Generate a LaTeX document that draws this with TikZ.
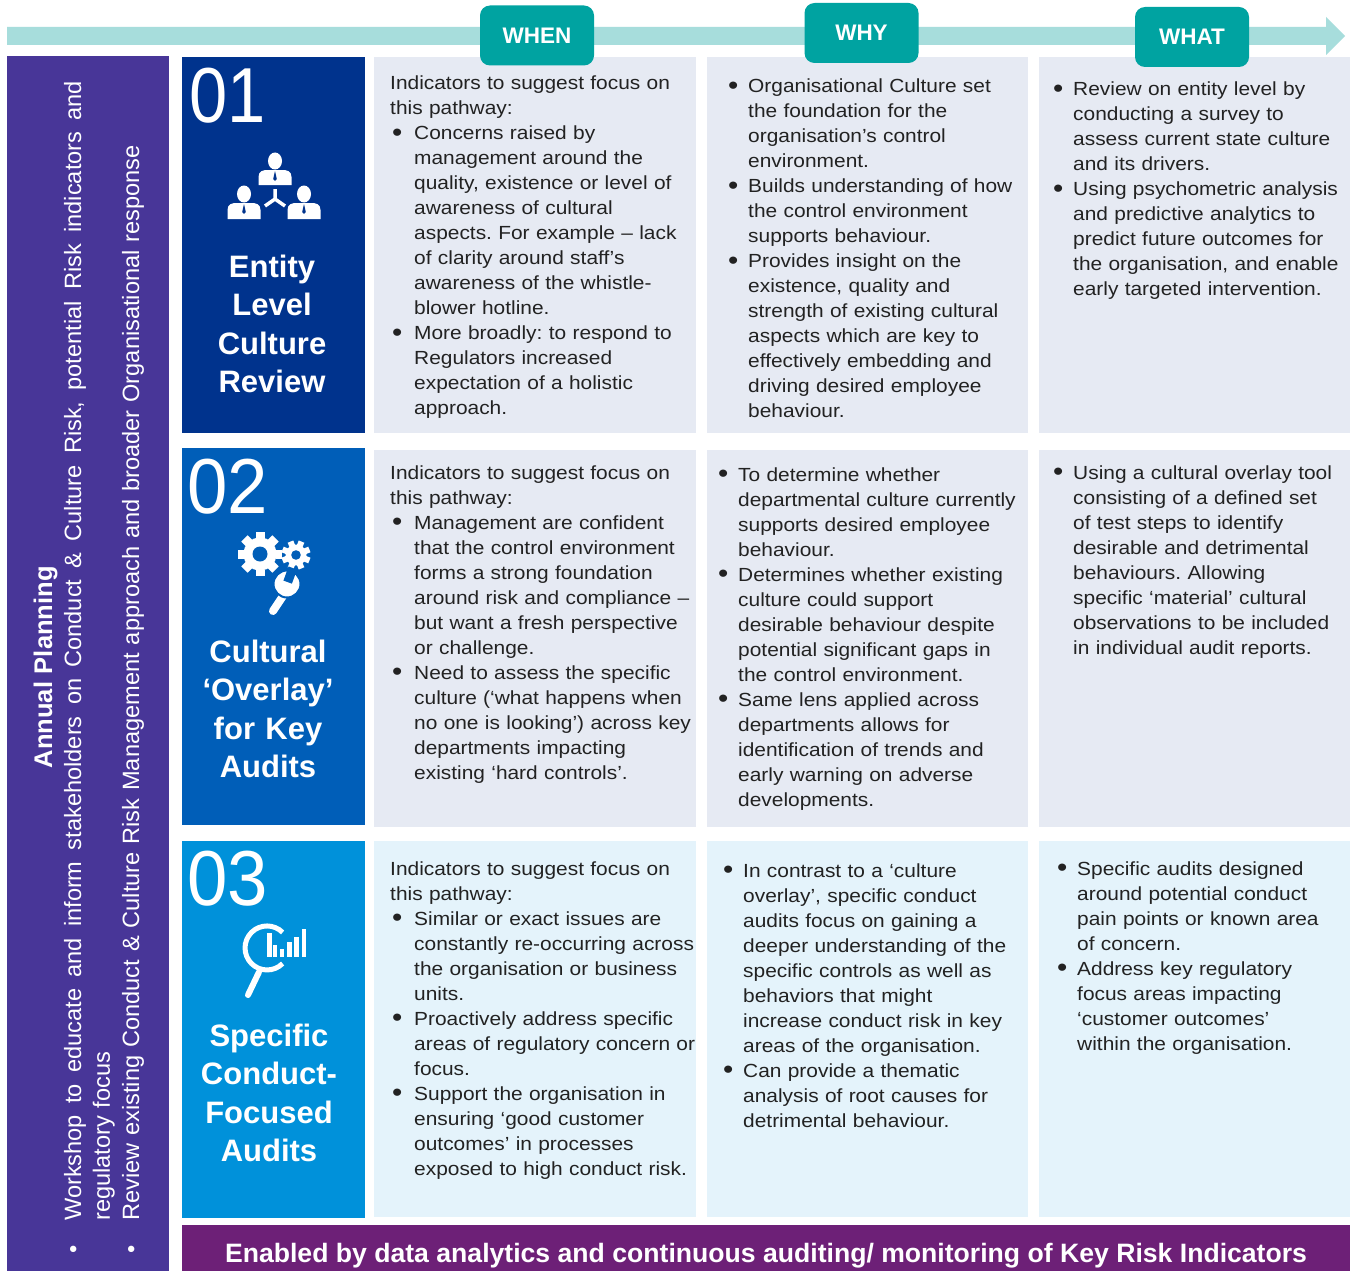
\documentclass[tikz,border=0pt]{standalone}
\usepackage{fontspec}
\usepackage{graphicx}
\setmainfont{Liberation Sans}
\newfontfamily\bodyf{Liberation Sans}[FakeStretch=1.1]
\definecolor{band}{HTML}{A7DDDC}
\definecolor{tabteal}{HTML}{00A3A1}
\definecolor{planpurple}{HTML}{483698}
\definecolor{barpurple}{HTML}{6D2077}
\definecolor{boxA}{HTML}{00338D}
\definecolor{boxB}{HTML}{005EB8}
\definecolor{boxC}{HTML}{0091DA}
\definecolor{cellA}{HTML}{E6EAF3}
\definecolor{cellB}{HTML}{E4F3FB}
\definecolor{txt}{HTML}{222222}
\frenchspacing
\newcommand{\bodyfont}{\bodyf\fontsize{19pt}{25pt}\selectfont\frenchspacing}
\newcommand{\titlefont}{\bfseries\fontsize{31pt}{38.5pt}\selectfont}
\newcommand{\numfont}{\fontsize{78pt}{80pt}\selectfont}
\newcommand{\tabfont}{\bfseries\fontsize{22.5pt}{24pt}\selectfont}
\newcommand{\barfont}{\bfseries\fontsize{26.6pt}{28pt}\selectfont}
\newcommand{\bigdot}{\raisebox{-1.6pt}{\scalebox{1.4}{•}}}
\newcommand{\wbul}[1]{\hangindent=24pt\hangafter=1\noindent\makebox[24pt][l]{\hspace{2pt}\bigdot}#1\par}
\newcommand{\ybul}[1]{\hangindent=19pt\hangafter=1\noindent\makebox[19pt][l]{\hspace{-1pt}\bigdot}#1\par}
\newcommand{\drawperson}[4]{%
  \fill[white] (#1,#2) ellipse (7pt and 8.5pt);
  \fill[white] ({#1-16.5},#4) -- ({#1-16.5},{#3+7}) .. controls ({#1-16.5},{#3+1}) and ({#1-12},#3) .. ({#1-7},#3) -- ({#1+7},#3) .. controls ({#1+12},#3) and ({#1+16.5},{#3+1}) .. ({#1+16.5},{#3+7}) -- ({#1+16.5},#4) -- cycle;
  \fill[boxA] (#1,{#3+1}) -- ({#1+1.8},{#3+9}) -- (#1,{#3+11}) -- ({#1-1.8},{#3+9}) -- cycle;
}
\newcommand{\drawgear}[8]{%
  \foreach \a in {0,45,...,315} {
    \fill[white, rotate around={\a+#8:(#1,#2)}] ({#1-#6/2},{#2-#4}) rectangle ({#1+#6/2},{#2-#3+1});
  }
  \fill[white] (#1,#2) circle (#3 pt);
  \fill[#7] (#1,#2) circle (#5 pt);
}
\begin{document}
\begin{tikzpicture}[x=1pt,y=-1pt,
  celltext/.style={anchor=base west, inner sep=0pt, text width=330pt, align=left, text=txt, font=\bodyfont},
  titletext/.style={anchor=base, inner sep=0pt, text width=180pt, align=center, text=white, font=\titlefont},
  numtext/.style={anchor=base west, inner sep=0pt, text=white, font=\numfont},
  tabbox/.style={fill=tabteal, rounded corners=10pt, text=white, font=\tabfont, inner sep=0pt, minimum width=114pt, minimum height=60pt}]
\useasboundingbox (0,0) rectangle (1352,1271);
\fill[white] (0,0) rectangle (1352,1271);

% timeline arrow band
\fill[band] (7,27) -- (1326,27) -- (1326,17) -- (1345,36) -- (1326,55) -- (1326,45) -- (7,45) -- cycle;

% left planning bar
\fill[planpurple] (7,56) rectangle (169,1271);

% pathway title boxes
\fill[boxA] (182,57) rectangle (365,433);
\fill[boxB] (182,448) rectangle (365,825);
\fill[boxC] (182,841) rectangle (365,1218);

% cells
\foreach \xa/\xb in {374/696, 707/1028, 1039/1350} {
  \fill[cellA] (\xa,57) rectangle (\xb,433);
  \fill[cellA] (\xa,450) rectangle (\xb,827);
  \fill[cellB] (\xa,841) rectangle (\xb,1217);
}

% bottom bar
\fill[barpurple] (182,1225) rectangle (1350,1271);
\node[anchor=base, inner sep=0pt, text=white, font=\barfont] (enabled) at (766,1262) {Enabled by data analytics and continuous auditing/ monitoring of Key Risk Indicators};

% tabs
\node[tabbox] (when) at (537,35.5) {WHEN};
\node[tabbox] (why) at (861.5,33) {WHY};
\node[tabbox] (what) at (1192,37) {WHAT};

% left rotated planning text
\node[rotate=90, anchor=base west, inner sep=0pt, text width=1173pt, text=white, font=\fontsize{23.6pt}{29pt}\selectfont] (plan) at (52,1254) {%
{\centering\bfseries\fontsize{25.5pt}{29pt}\selectfont Annual Planning\par}
\hangindent=33pt\hangafter=1\noindent\makebox[33pt][l]{•}{\spaceskip=6.6pt plus 30pt minus 2pt\makebox[1140pt][s]{Workshop to educate and inform stakeholders on Conduct \& Culture Risk, potential Risk indicators and}}\newline regulatory focus\par
\hangindent=33pt\hangafter=1\noindent\makebox[33pt][l]{•}Review existing Conduct \& Culture Risk Management approach and broader Organisational response\par};

% numbers
\node[numtext] (n1) at (189,123) {\scalebox{0.88}[1]{01}};
\node[numtext] (n2) at (187,513) {\scalebox{0.93}[1]{02}};
\node[numtext] (n3) at (187,905) {\scalebox{0.93}[1]{03}};

% titles
\node[titletext] (t1) at (272,277) {Entity\\Level\\Culture\\Review};
\node[titletext] (t2) at (268,662) {Cultural\\‘Overlay’\\for Key\\Audits};
\node[titletext] (t3) at (269,1046) {Specific\\Conduct-\\Focused\\Audits};

% icon 1: people
\drawperson{275}{161}{170}{185}
\drawperson{244}{194}{203}{219}
\drawperson{304}{194}{203}{219}
\draw[white, line width=3.5pt] (275,199) -- (275,189) (275,199) -- (265,206) (275,199) -- (285,206);

% icon 2: gears and wrench
\drawgear{260}{554}{16.5}{22}{7.5}{9}{boxB}{0}
\drawgear{296}{555}{10.5}{14.5}{4.8}{6}{boxB}{22.5}
\draw[white, line width=8pt, line cap=round] (283,596) -- (273,611);
\filldraw[fill=white, draw=boxB, line width=2pt] (287,584) circle (13.5pt);
\fill[boxB, rotate around={-20:(287,584)}] (282.5,567) rectangle (291.5,582);

% icon 3: magnifier with bars
\draw[white, line width=5pt] (282.6,932.4) arc[start angle=45, end angle=315, radius=22pt];
\draw[white, line width=6pt, line cap=round] (259,972) -- (248,995);
\foreach \xl/\xr/\yt in {267.3/271.7/932.7, 273.3/277.3/945, 280/284.3/949.3, 287.3/291.7/941.7, 294.3/299/936.7, 301.7/306/929} {
  \fill[white] (\xl,\yt) rectangle (\xr,956.7);
}

% row 1 texts
\node[celltext] (r1when) at (390,90) {Indicators to suggest focus on\newline this pathway:\par
\wbul{Concerns raised by\newline management around the\newline quality, existence or level of\newline awareness of cultural\newline aspects. For example – lack\newline of clarity around staff’s\newline awareness of the whistle-\newline blower hotline.}
\wbul{More broadly: to respond to\newline Regulators increased\newline expectation of a holistic\newline approach.}};
\node[celltext] (r1why) at (729,93) {\ybul{Organisational Culture set\newline the foundation for the\newline organisation’s control\newline environment.}
\ybul{Builds understanding of how\newline the control environment\newline supports behaviour.}
\ybul{Provides insight on the\newline existence, quality and\newline strength of existing cultural\newline aspects which are key to\newline effectively embedding and\newline driving desired employee\newline behaviour.}};
\node[celltext] (r1what) at (1054,96) {\ybul{Review on entity level by\newline conducting a survey to\newline assess current state culture\newline and its drivers.}
\ybul{Using psychometric analysis\newline and predictive analytics to\newline predict future outcomes for\newline the organisation, and enable\newline early targeted intervention.}};

% row 2 texts
\node[celltext] (r2when) at (390,479) {Indicators to suggest focus on\newline this pathway:\par
\wbul{Management are confident\newline that the control environment\newline forms a strong foundation\newline around risk and compliance –\newline but want a fresh perspective\newline or challenge.}
\wbul{Need to assess the specific\newline culture (‘what happens when\newline no one is looking’) across key\newline departments impacting\newline existing ‘hard controls’.}};
\node[celltext] (r2why) at (719,481) {\ybul{To determine whether\newline departmental culture currently\newline supports desired employee\newline behaviour.}
\ybul{Determines whether existing\newline culture could support\newline desirable behaviour despite\newline potential significant gaps in\newline the control environment.}
\ybul{Same lens applied across\newline departments allows for\newline identification of trends and\newline early warning on adverse\newline developments.}};
\node[celltext] (r2what) at (1054,479) {\ybul{Using a cultural overlay tool\newline consisting of a defined set\newline of test steps to identify\newline desirable and detrimental\newline behaviours. Allowing\newline specific ‘material’ cultural\newline observations to be included\newline in individual audit reports.}};

% row 3 texts
\node[celltext] (r3when) at (390,875) {Indicators to suggest focus on\newline this pathway:\par
\wbul{Similar or exact issues are\newline constantly re-occurring across\newline the organisation or business\newline units.}
\wbul{Proactively address specific\newline areas of regulatory concern or\newline focus.}
\wbul{Support the organisation in\newline ensuring ‘good customer\newline outcomes’ in processes\newline exposed to high conduct risk.}};
\node[celltext] (r3why) at (724,877) {\ybul{In contrast to a ‘culture\newline overlay’, specific conduct\newline audits focus on gaining a\newline deeper understanding of the\newline specific controls as well as\newline behaviors that might\newline increase conduct risk in key\newline areas of the organisation.}
\ybul{Can provide a thematic\newline analysis of root causes for\newline detrimental behaviour.}};
\node[celltext] (r3what) at (1058,875) {\ybul{Specific audits designed\newline around potential conduct\newline pain points or known area\newline of concern.}
\ybul{Address key regulatory\newline focus areas impacting\newline ‘customer outcomes’\newline within the organisation.}};
\end{tikzpicture}
\end{document}
